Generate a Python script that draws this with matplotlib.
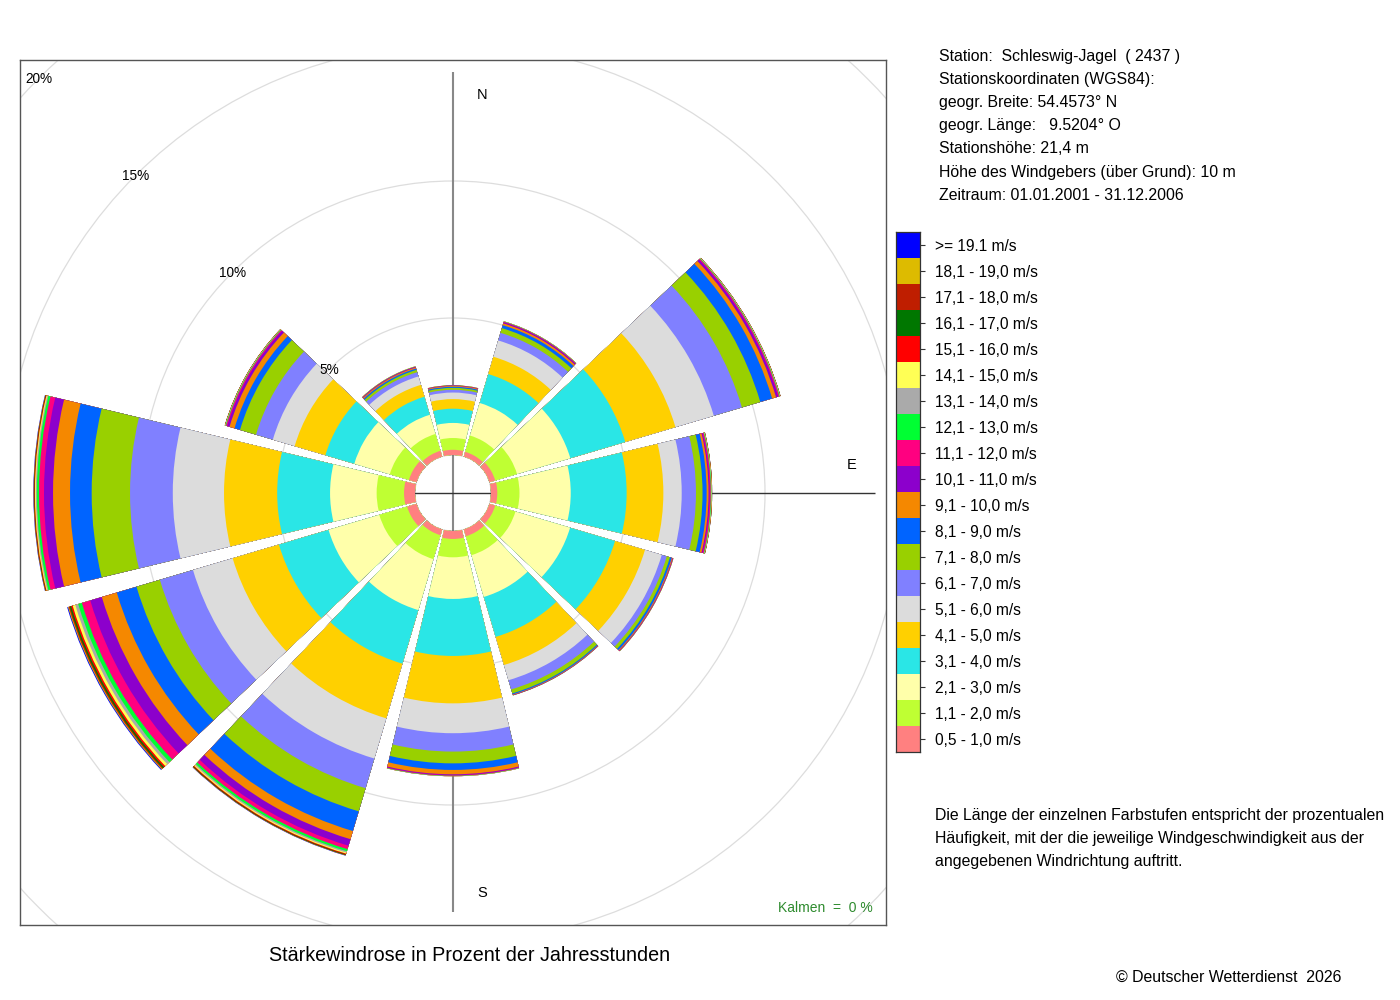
import numpy as np
import matplotlib
matplotlib.use('Agg')
import matplotlib.pyplot as plt
from matplotlib.patches import Wedge, Circle

plt.rcParams['font.family'] = ['Liberation Sans', 'DejaVu Sans']

# ---------------- data ----------------
compass_deg = [0, 30, 60, 90, 120, 150, 180, 210, 240, 270, 300, 330]

speed_labels = ['0,5 - 1,0 m/s', '1,1 - 2,0 m/s', '2,1 - 3,0 m/s', '3,1 - 4,0 m/s',
                '4,1 - 5,0 m/s', '5,1 - 6,0 m/s', '6,1 - 7,0 m/s', '7,1 - 8,0 m/s',
                '8,1 - 9,0 m/s', '9,1 - 10,0 m/s', '10,1 - 11,0 m/s', '11,1 - 12,0 m/s',
                '12,1 - 13,0 m/s', '13,1 - 14,0 m/s', '14,1 - 15,0 m/s', '15,1 - 16,0 m/s',
                '16,1 - 17,0 m/s', '17,1 - 18,0 m/s', '18,1 - 19,0 m/s', '>= 19.1 m/s']

speed_colors = ['#FF8080', '#BFFF33', '#FFFFAA', '#2AE6E6', '#FFD000', '#DCDCDC',
                '#8080FF', '#99D000', '#0064FF', '#F58800', '#8C00CC', '#FF0080',
                '#00FF33', '#AAAAAA', '#FFFF55', '#FF0000', '#007700', '#BF1E00',
                '#DDBB00', '#0000FF']

# percent of hours per speed class (0.5-1.0 ... >=19.1) for each direction
freq_N   = [0.19, 0.43, 0.55, 0.52, 0.35, 0.24, 0.10, 0.07, 0.04, 0.03, 0.01, 0.01, 0.005, 0.003, 0.002, 0.001, 0.0, 0.0, 0.0, 0.0]
freq_NNO = [0.18, 0.62, 1.24, 1.10, 0.66, 0.62, 0.29, 0.18, 0.11, 0.07, 0.04, 0.02, 0.01, 0.005, 0.003, 0.002, 0.001, 0.0, 0.0, 0.0]
freq_ONO = [0.22, 0.83, 2.03, 2.09, 1.91, 1.46, 1.07, 0.70, 0.45, 0.15, 0.08, 0.04, 0.02, 0.01, 0.01, 0.005, 0.003, 0.002, 0.001, 0.001]
freq_O   = [0.23, 0.81, 1.87, 2.04, 1.34, 0.67, 0.52, 0.24, 0.15, 0.07, 0.04, 0.04, 0.02, 0.01, 0.01, 0.005, 0.003, 0.002, 0.001, 0.001]
freq_OSO = [0.22, 0.77, 2.08, 1.71, 1.14, 0.64, 0.19, 0.12, 0.07, 0.03, 0.015, 0.01, 0.005, 0.003, 0.002, 0.001, 0.0, 0.0, 0.0, 0.0]
freq_SSO = [0.26, 0.72, 1.59, 1.52, 1.07, 0.58, 0.35, 0.15, 0.04, 0.02, 0.01, 0.005, 0.003, 0.002, 0.001, 0.0, 0.0, 0.0, 0.0, 0.0]
freq_S   = [0.29, 0.67, 1.52, 2.08, 1.73, 1.09, 0.67, 0.43, 0.24, 0.16, 0.03, 0.02, 0.01, 0.005, 0.003, 0.002, 0.001, 0.0, 0.0, 0.0]
freq_SSW = [0.22, 0.91, 1.94, 2.04, 2.08, 1.53, 1.13, 0.88, 0.75, 0.31, 0.25, 0.13, 0.08, 0.05, 0.04, 0.03, 0.02, 0.01, 0.01, 0.01]
freq_WSW = [0.36, 1.06, 1.93, 1.89, 1.76, 1.51, 1.26, 0.89, 0.75, 0.57, 0.44, 0.32, 0.14, 0.11, 0.10, 0.06, 0.05, 0.04, 0.03, 0.03]
freq_W   = [0.40, 1.00, 1.70, 1.93, 1.94, 1.87, 1.56, 1.40, 0.79, 0.62, 0.33, 0.18, 0.08, 0.04, 0.03, 0.02, 0.01, 0.01, 0.01, 0.01]
freq_WNW = [0.29, 0.73, 1.35, 1.10, 1.17, 0.83, 0.64, 0.61, 0.21, 0.19, 0.09, 0.04, 0.02, 0.01, 0.01, 0.005, 0.003, 0.002, 0.001, 0.001]
freq_NNW = [0.22, 0.64, 0.73, 0.69, 0.45, 0.32, 0.16, 0.09, 0.05, 0.04, 0.02, 0.01, 0.01, 0.005, 0.003, 0.002, 0.0, 0.0, 0.0, 0.0]

ring_percents = [5, 10, 15, 20]

station_lines = ['Station:  Schleswig-Jagel  ( 2437 )',
                 'Stationskoordinaten (WGS84):',
                 'geogr. Breite: 54.4573° N',
                 'geogr. Länge:   9.5204° O',
                 'Stationshöhe: 21,4 m',
                 'Höhe des Windgebers (über Grund): 10 m',
                 'Zeitraum: 01.01.2001 - 31.12.2006']
note_lines = ['Die Länge der einzelnen Farbstufen entspricht der prozentualen',
              'Häufigkeit, mit der die jeweilige Windgeschwindigkeit aus der',
              'angegebenen Windrichtung auftritt.']
calm_text = 'Kalmen  =  0 %'
title_text = 'Stärkewindrose in Prozent der Jahresstunden'
copyright_text = '© Deutscher Wetterdienst  2026'

# ---------------- figure ----------------
W_PX, H_PX = 1400, 1000
fig = plt.figure(figsize=(14, 10), dpi=100)

PX = 27.4            # pixels per percent
HOLE = 38.0 / PX     # empty centre (0 %)
HALF = 13.5          # half sector width in degrees

ax = fig.add_axes([20 / W_PX, 75 / H_PX, 866 / W_PX, 865 / H_PX])
ax.set_xlim(-433 / PX, 433 / PX)
ax.set_ylim(-432 / PX, 433 / PX)
ax.set_xticks([])
ax.set_yticks([])
for sp in ax.spines.values():
    sp.set_color('#555555')
    sp.set_linewidth(1.0)

# grid circles
ax.add_patch(Circle((0, 0), HOLE, fill=False, edgecolor='#e4e4e4', lw=0.8, zorder=1))
for p in ring_percents:
    ax.add_patch(Circle((0, 0), HOLE + p, fill=False, edgecolor='#dddddd', lw=0.9, zorder=1))

# cross lines
ax.plot([0, 0], [-15.29, 15.36], color='#888888', lw=1.5, zorder=2, solid_capstyle='butt')
ax.plot([-14.8, 15.4], [0, 0], color='#333333', lw=1.0, zorder=2, solid_capstyle='butt')

all_freqs = [freq_N, freq_NNO, freq_ONO, freq_O, freq_OSO, freq_SSO,
             freq_S, freq_SSW, freq_WSW, freq_W, freq_WNW, freq_NNW]

for deg, freqs in zip(compass_deg, all_freqs):
    theta = 90 - deg
    cum = HOLE + np.cumsum(freqs)
    # draw outermost first; each wedge spans from the hole to its cumulative end
    for k in range(len(freqs) - 1, -1, -1):
        if freqs[k] <= 0:
            continue
        ax.add_patch(Wedge((0, 0), cum[k], theta - HALF, theta + HALF,
                           width=cum[k] - HOLE, facecolor=speed_colors[k],
                           edgecolor='none', lw=0, zorder=3))

# direction labels
ax.text(1.06, 14.53, 'N', ha='center', va='center', fontsize=10.5, zorder=5)
ax.text(14.56, 1.03, 'E', ha='center', va='center', fontsize=10.5, zorder=5)
ax.text(1.06, -14.6, 'S', ha='center', va='center', fontsize=10.5, zorder=5)

# ring labels along the upper-left diagonal
for p in ring_percents:
    r = HOLE + p
    ax.text(-r * np.cos(np.pi / 4), r * np.sin(np.pi / 4) - 0.03, f'{p}%',
            ha='center', va='center', fontsize=9.8, zorder=5)

# calm
fig.text(873 / W_PX, 1 - 912 / H_PX, calm_text, ha='right', va='baseline',
         fontsize=10, color='#2e8b2e')

# title and copyright
fig.text(470 / W_PX, 1 - 961 / H_PX, title_text, ha='center', va='baseline', fontsize=14.2)
fig.text(1341 / W_PX, 1 - 982 / H_PX, copyright_text, ha='right', va='baseline', fontsize=11.4)

# station info
for i, line in enumerate(station_lines):
    fig.text(939 / W_PX, 1 - (61 + 23.1 * i) / H_PX, line, ha='left', va='baseline',
             fontsize=11.4)

# note
for i, line in enumerate(note_lines):
    fig.text(935 / W_PX, 1 - (820 + 23.1 * i) / H_PX, line, ha='left', va='baseline',
             fontsize=11.45)

# legend colour bar
lax = fig.add_axes([896 / W_PX, 248 / H_PX, 24 / W_PX, 520 / H_PX])
n_cls = len(speed_labels)
lax.bar(np.full(n_cls, 0.5), np.ones(n_cls), bottom=np.arange(n_cls), width=1.0,
        color=speed_colors, edgecolor='none', linewidth=0)
lax.set_xlim(0, 1)
lax.set_ylim(0, n_cls)
lax.set_xticks([])
lax.yaxis.tick_right()
lax.set_yticks(np.arange(n_cls) + 0.5)
lax.set_yticklabels(speed_labels, fontsize=11.2)
lax.tick_params(axis='y', length=3.3, width=0.8, pad=7.5, color='#333333')
for sp in lax.spines.values():
    sp.set_color('#333333')
    sp.set_linewidth(0.9)

fig.savefig('out.png', dpi=100)
